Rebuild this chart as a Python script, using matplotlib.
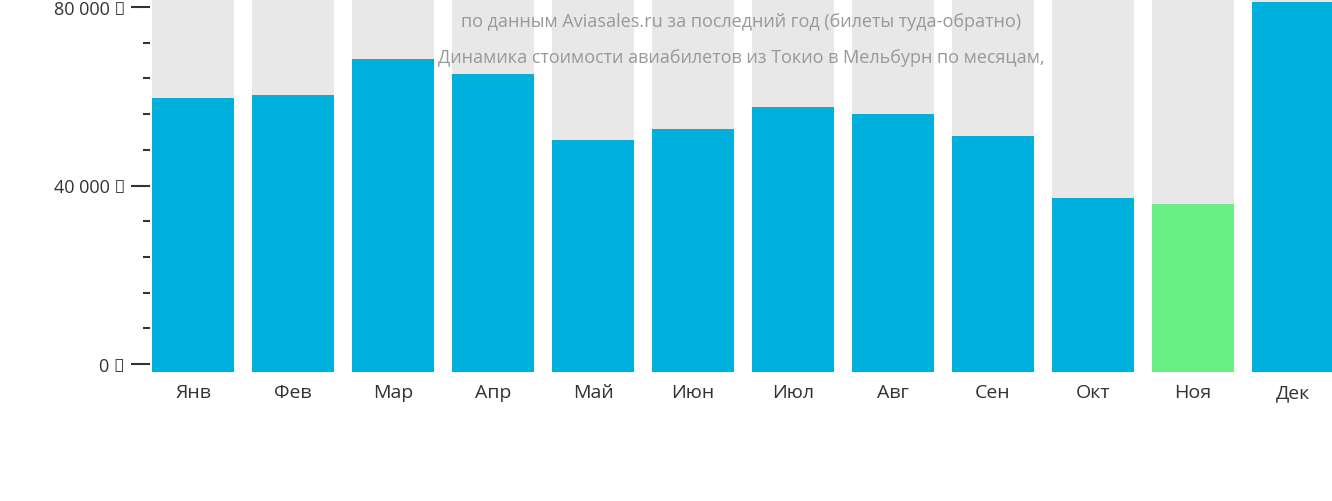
import matplotlib
matplotlib.use("Agg")
import matplotlib.pyplot as plt
from matplotlib.ticker import MultipleLocator, FuncFormatter

months = ["Янв","Фев","Мар","Апр","Май","Июн","Июл","Авг","Сен","Окт","Ноя","Дек"]
prices = [59600,60280,68350,65000,50200,52660,57600,56000,51100,37200,35860,81100]
cheapest = "Ноя"

plt.rcParams["font.family"] = "Open Sans"
fig = plt.figure(figsize=(13.32,5.02), dpi=100)
ax = fig.add_axes([150/1332, 1-373/502, 1-150/1332, 373/502])
bottom = -1800
top = 81800
x = range(len(months))
ax.bar(x, [top-bottom]*len(months), bottom=bottom, width=0.82, color="#e8e8e8")
colors = ["#69f085" if m == cheapest else "#00b0dc" for m in months]
ax.bar(x, [p-bottom for p in prices], bottom=bottom, width=0.82, color=colors)
ax.set_xlim(-0.43, 11.39)
ax.set_ylim(bottom, top)
for s in ax.spines.values():
    s.set_visible(False)
ax.yaxis.set_major_locator(MultipleLocator(40000))
ax.yaxis.set_minor_locator(MultipleLocator(8000))
ax.yaxis.set_major_formatter(FuncFormatter(lambda v,p: f"{int(v):,}".replace(",", " ") + " ₽"))
ax.tick_params(axis="y", which="major", length=14, width=1.5, color="#333", labelsize=13, pad=4, labelcolor="#333")
ax.tick_params(axis="y", which="minor", length=5, width=1.5, color="#333")
ax.set_xticks(list(x))
ax.set_xticklabels(months)
ax.tick_params(axis="x", length=0, labelsize=14, pad=8, labelcolor="#333")
fig.text(0.5+75/1332, 444/502, "Динамика стоимости авиабилетов из Токио в Мельбурн по месяцам,", ha="center", va="center", color="#999", fontsize=13)
fig.text(0.5+75/1332, 480/502, "по данным Aviasales.ru за последний год (билеты туда-обратно)", ha="center", va="center", color="#999", fontsize=13)
fig.savefig("out.png", dpi=100)
